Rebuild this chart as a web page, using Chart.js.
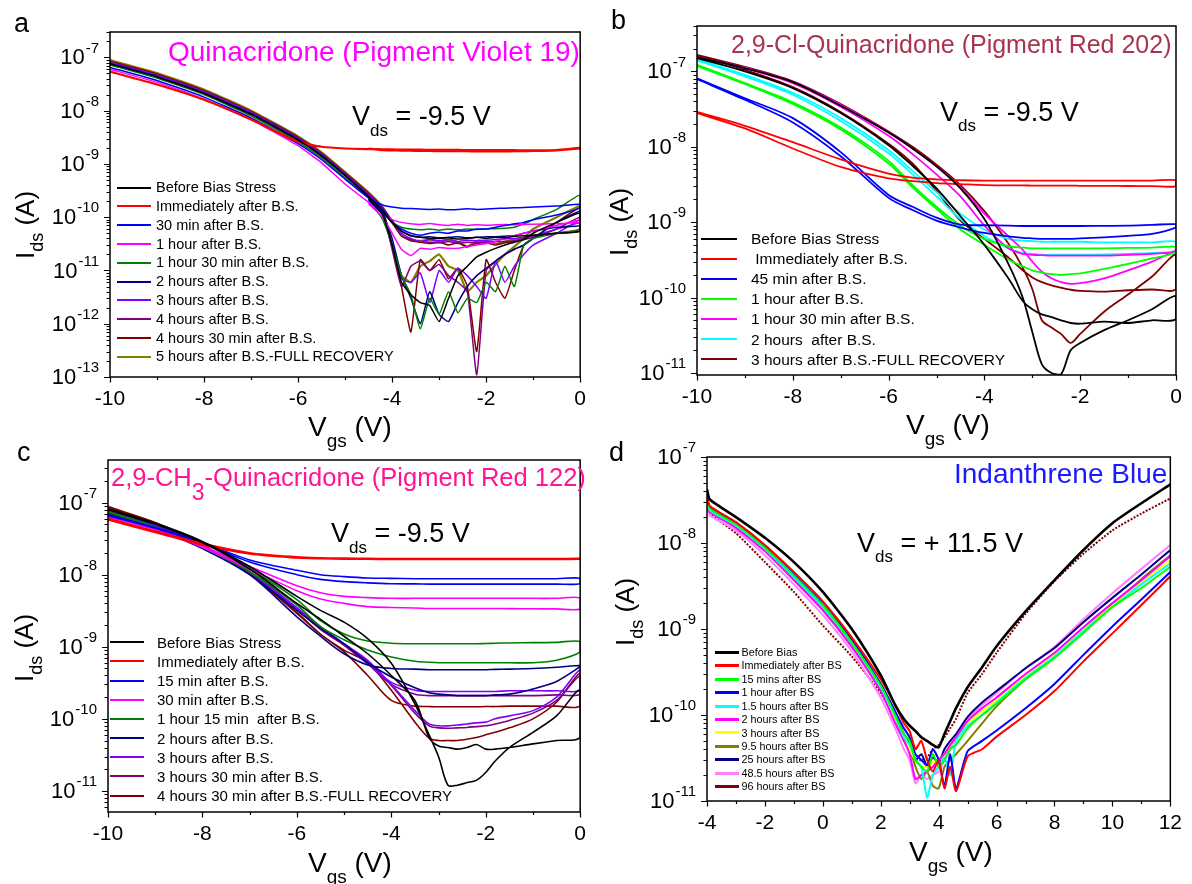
<!DOCTYPE html>
<html>
<head>
<meta charset="utf-8">
<script src="https://cdn.jsdelivr.net/npm/chart.js@4.4.0/dist/chart.umd.min.js"></script>
<style>
  body { margin: 0; }
  #page { position: relative; width: 1192px; height: 884px; background: #fff; overflow: hidden;
          font-family: 'Liberation Sans', Arial, sans-serif; }
  canvas { position: absolute; }
  .t { position: absolute; line-height: 1; white-space: pre; color: #000; }
  .sub { position: relative; }
  .rot { transform: translate(-50%, -50%) rotate(-90deg); }
</style>
</head>
<body>
<div id="page">
  <canvas id="chartA" width="596" height="440" style="left:0px;top:0px"></canvas>
  <canvas id="chartB" width="596" height="440" style="left:596px;top:0px"></canvas>
  <canvas id="chartC" width="596" height="444" style="left:0px;top:440px"></canvas>
  <canvas id="chartD" width="596" height="444" style="left:596px;top:440px"></canvas>

  <div class="t" style="left:14px;top:10px;font-size:27px">a</div>
  <div class="t" style="left:611px;top:7px;font-size:27px">b</div>
  <div class="t" style="left:17px;top:439px;font-size:27px">c</div>
  <div class="t" style="left:609px;top:439px;font-size:27px">d</div>

  <div class="t" style="left:168px;top:38px;font-size:28px;color:#ff00ff">Quinacridone (Pigment Violet 19)</div>
  <div class="t" style="left:731px;top:31.5px;font-size:25px;color:#a8344f">2,9-Cl-Quinacridone (Pigment Red 202)</div>
  <div class="t" style="left:111px;top:465px;font-size:25.5px;color:#ff1493">2,9-CH<span class="sub" style="font-size:23px;top:14px">3</span>-Quinacridone (Pigment Red 122)</div>
  <div class="t" style="left:954px;top:460px;font-size:28px;color:#1a1aff">Indanthrene Blue</div>

  <div class="t" style="left:352px;top:103px;font-size:27px">V<span class="sub" style="font-size:17px;top:10.5px">ds</span> = -9.5 V</div>
  <div class="t" style="left:940px;top:98.5px;font-size:27px">V<span class="sub" style="font-size:17px;top:10.5px">ds</span> = -9.5 V</div>
  <div class="t" style="left:331px;top:520px;font-size:27px">V<span class="sub" style="font-size:17px;top:10.5px">ds</span> = -9.5 V</div>
  <div class="t" style="left:857px;top:529.5px;font-size:27px">V<span class="sub" style="font-size:17px;top:10.5px">ds</span> = + 11.5 V</div>

  <div class="t rot" style="left:25px;top:225px;font-size:26px">I<span class="sub" style="font-size:18px;top:9px">ds</span> (A)</div>
  <div class="t rot" style="left:619px;top:222px;font-size:26px">I<span class="sub" style="font-size:18px;top:9px">ds</span> (A)</div>
  <div class="t rot" style="left:24px;top:648px;font-size:26px">I<span class="sub" style="font-size:18px;top:9px">ds</span> (A)</div>
  <div class="t rot" style="left:625px;top:612px;font-size:26px">I<span class="sub" style="font-size:18px;top:9px">ds</span> (A)</div>

  <div class="t" style="left:308px;top:413px;font-size:28px">V<span class="sub" style="font-size:19px;top:11px">gs</span> (V)</div>
  <div class="t" style="left:906px;top:411px;font-size:28px">V<span class="sub" style="font-size:19px;top:11px">gs</span> (V)</div>
  <div class="t" style="left:308px;top:849px;font-size:28px">V<span class="sub" style="font-size:19px;top:11px">gs</span> (V)</div>
  <div class="t" style="left:909px;top:838px;font-size:28px">V<span class="sub" style="font-size:19px;top:11px">gs</span> (V)</div>
</div>
<script>
// ---------- panel a : Quinacridone ----------
const vgsA = [-10, -9, -8, -7, -6, -5.5, -5, -4.5, -4.2, -4, -3.8, -3.6, -3.4, -3.2, -3, -2.8, -2.6, -2.4, -2.2, -2, -1.8, -1.6, -1.4, -1.2, -1, -0.5, 0];
const vgsAReturn = [-4.5, -4.2, -4, -3.8, -3.6, -3.4, -3.2, -3, -2.8, -2.6, -2.4, -2.2, -2, -1.8, -1.6, -1.4, -1.2, -1, -0.5, 0];
const namesA = ['Before Bias Stress', 'Immediately after B.S.', '30 min after B.S.', '1 hour after B.S.', '1 hour 30 min after B.S.',
  '2 hours after B.S.', '3 hours after B.S.', '4 hours after B.S.', '4 hours 30 min after B.S.', '5 hours after B.S.-FULL RECOVERY'];
const colorsA = ['#000000', '#ff0000', '#0000ff', '#ff00ff', '#008000', '#000080', '#8000ff', '#800080', '#800000', '#808000'];

const aBeforeFwd = [7.5e-8, 4.3e-8, 2.1e-8, 8.5e-9, 2.8e-9, 1.4e-9, 6e-10, 2.4e-10, 1.3e-10, 8e-11, 5.5e-11, 4.5e-11, 4.2e-11, 4e-11, 4e-11, 4.1e-11, 3.9e-11, 4e-11, 4.2e-11, 4e-11, 4.2e-11, 4.1e-11, 4.4e-11, 4.5e-11, 4.6e-11, 5e-11, 5.5e-11];
const aBeforeRev = [2.2e-10, 1.1e-10, 3e-11, 6e-12, 3.5e-12, 2.5e-12, 2.2e-12, 1.1e-12, 3e-12, 8e-12, 1.2e-11, 1.8e-11, 2.2e-11, 2.6e-11, 3e-11, 3.4e-11, 3.8e-11, 5e-11, 8e-11, 1.2e-10];
const aImmFwd = [5.4e-8, 3.1e-8, 1.6e-8, 6.8e-9, 2.6e-9, 2.1e-9, 1.95e-9, 1.9e-9, 1.88e-9, 1.87e-9, 1.86e-9, 1.85e-9, 1.85e-9, 1.84e-9, 1.84e-9, 1.83e-9, 1.83e-9, 1.82e-9, 1.82e-9, 1.82e-9, 1.81e-9, 1.81e-9, 1.81e-9, 1.8e-9, 1.8e-9, 1.82e-9, 2e-9];
const aImmRev = [1.95e-9, 1.82e-9, 1.8e-9, 1.78e-9, 1.77e-9, 1.76e-9, 1.75e-9, 1.74e-9, 1.74e-9, 1.73e-9, 1.73e-9, 1.72e-9, 1.72e-9, 1.72e-9, 1.72e-9, 1.73e-9, 1.74e-9, 1.75e-9, 1.8e-9, 1.95e-9];
const aBlueFwd = [6.5e-8, 3.7e-8, 1.8e-8, 7.3e-9, 2.4e-9, 1.2e-9, 5.2e-10, 2.3e-10, 1.7e-10, 1.55e-10, 1.48e-10, 1.45e-10, 1.42e-10, 1.4e-10, 1.42e-10, 1.38e-10, 1.4e-10, 1.44e-10, 1.4e-10, 1.42e-10, 1.45e-10, 1.48e-10, 1.5e-10, 1.52e-10, 1.55e-10, 1.62e-10, 1.75e-10];
const aBlueRev = [2.1e-10, 1.2e-10, 8e-11, 6e-11, 5e-11, 4.6e-11, 5e-11, 5.2e-11, 5e-11, 5.5e-11, 5.5e-11, 6e-11, 6e-11, 6.5e-11, 7e-11, 7.5e-11, 8e-11, 9e-11, 1.1e-10, 1.5e-10];
const aMagFwd = [6e-8, 3.4e-8, 1.65e-8, 6.8e-9, 2.2e-9, 1.05e-9, 4.2e-10, 1.9e-10, 1.2e-10, 9e-11, 8e-11, 7.5e-11, 7.3e-11, 7.6e-11, 7.2e-11, 7e-11, 7.4e-11, 7e-11, 7.2e-11, 7.1e-11, 7.2e-11, 7.3e-11, 7.2e-11, 7.3e-11, 7.4e-11, 7.6e-11, 8e-11];
const aMagRev = [1.8e-10, 1e-10, 5e-11, 2.5e-11, 1.9e-11, 2.6e-11, 2.5e-11, 2.7e-11, 2.6e-11, 2.6e-11, 2.8e-11, 3e-11, 3.2e-11, 3.5e-11, 4e-11, 4.5e-11, 5e-11, 5.5e-11, 7e-11, 9e-11];
const aGreenFwd = [7.2e-8, 4.1e-8, 2e-8, 8e-9, 2.6e-9, 1.3e-9, 5.5e-10, 2.3e-10, 1.3e-10, 8e-11, 6.5e-11, 6e-11, 5.8e-11, 6e-11, 5.7e-11, 6e-11, 5.8e-11, 6e-11, 5.9e-11, 6e-11, 6.1e-11, 6.2e-11, 6.5e-11, 7.5e-11, 9e-11, 1.4e-10, 2.6e-10];
const aGreenRev = [2.2e-10, 9e-11, 3e-11, 8e-12, 3.5e-12, 8e-13, 3e-12, 1.5e-12, 4e-12, 1.6e-12, 3e-12, 2.5e-12, 6e-12, 4e-12, 1.2e-11, 5e-12, 3e-11, 4e-11, 5e-11, 6e-11];
const aNavyFwd = [7.7e-8, 4.4e-8, 2.15e-8, 8.8e-9, 2.9e-9, 1.45e-9, 6.2e-10, 2.5e-10, 1.4e-10, 8.5e-11, 5.5e-11, 4.5e-11, 4.2e-11, 4.3e-11, 4.1e-11, 4.2e-11, 4.3e-11, 4.1e-11, 4.2e-11, 4.3e-11, 4.3e-11, 4.4e-11, 4.5e-11, 5e-11, 5.5e-11, 6.5e-11, 7e-11];
const aNavyRev = [2.4e-10, 1.2e-10, 4e-11, 8e-12, 3e-12, 1e-12, 4e-12, 1.5e-12, 1.1e-12, 2.5e-12, 5e-12, 8e-12, 1.1e-11, 1.5e-11, 2e-11, 2.5e-11, 3e-11, 4e-11, 8e-11, 1.3e-10];
const aVioletFwd = [8e-8, 4.6e-8, 2.25e-8, 9.2e-9, 3e-9, 1.5e-9, 6.4e-10, 2.6e-10, 1.45e-10, 8.5e-11, 5e-11, 4e-11, 3.5e-11, 3.8e-11, 3.6e-11, 3.8e-11, 3.5e-11, 3.7e-11, 3.6e-11, 3.7e-11, 3.8e-11, 3.9e-11, 4e-11, 4.2e-11, 4.5e-11, 6e-11, 8e-11];
const aVioletRev = [2.5e-10, 1.2e-10, 3e-11, 7e-12, 6e-12, 9e-12, 2.5e-12, 1e-11, 6e-12, 1.1e-11, 8e-12, 5e-12, 3e-12, 1.5e-11, 6e-12, 1.2e-11, 2e-11, 3e-11, 5e-11, 9e-11];
const aPurpleFwd = [8.2e-8, 4.7e-8, 2.3e-8, 9.4e-9, 3.1e-9, 1.55e-9, 6.6e-10, 2.7e-10, 1.5e-10, 8.5e-11, 4.5e-11, 3.8e-11, 3.5e-11, 3.4e-11, 3.3e-11, 3.5e-11, 3.2e-11, 3.4e-11, 3.3e-11, 3.4e-11, 3.5e-11, 3.5e-11, 3.6e-11, 3.8e-11, 4.2e-11, 5e-11, 5.5e-11];
const aPurpleRev = [2.6e-10, 1.2e-10, 2.5e-11, 5e-12, 1.2e-11, 1.5e-11, 1e-11, 1.3e-11, 8e-12, 6e-12, 4e-12, 1.1e-13, 1e-11, 1.5e-11, 2e-11, 2.5e-11, 3e-11, 4e-11, 6e-11, 1e-10];
const aMaroonFwd = [8.5e-8, 4.9e-8, 2.4e-8, 9.7e-9, 3.2e-9, 1.6e-9, 6.8e-10, 2.8e-10, 1.5e-10, 8e-11, 4.5e-11, 3.6e-11, 3.4e-11, 3.2e-11, 3.4e-11, 3e-11, 3.3e-11, 2.8e-11, 3.2e-11, 3.3e-11, 3e-11, 3.3e-11, 3.5e-11, 4e-11, 4.5e-11, 5e-11, 5.5e-11];
const aMaroonRev = [2.7e-10, 1.2e-10, 3e-11, 5e-12, 7e-13, 1.6e-11, 1e-11, 1.6e-11, 7e-12, 1.1e-11, 5e-12, 3e-13, 1.6e-11, 6e-12, 3e-12, 1e-11, 3e-11, 4e-11, 8e-11, 1.5e-10];
const aOliveFwd = [8.9e-8, 5.1e-8, 2.5e-8, 1e-8, 3.3e-9, 1.65e-9, 7e-10, 2.9e-10, 1.55e-10, 8e-11, 4.5e-11, 3.8e-11, 3.6e-11, 3.8e-11, 3.5e-11, 3.8e-11, 3.4e-11, 2.8e-11, 3.6e-11, 3.5e-11, 3.2e-11, 3.5e-11, 3.8e-11, 4.2e-11, 4.5e-11, 5e-11, 6e-11];
const aOliveRev = [2.8e-10, 1.3e-10, 3e-11, 8e-12, 6e-12, 1.2e-11, 1.5e-11, 2e-11, 1.2e-11, 1e-11, 4e-12, 6e-12, 8e-12, 1.3e-11, 2e-11, 2.8e-11, 4e-11, 6e-11, 1e-10, 1.6e-10];

// ---------- panel b : 2,9-Cl-Quinacridone ----------
const vgsB = [-10, -9, -8, -7, -6, -5.5, -5, -4.5, -4, -3.5, -3.2, -3, -2.8, -2.6, -2.4, -2.2, -2, -1.5, -1, -0.5, 0];
const namesB = ['Before Bias Stress', ' Immediately after B.S.', '45 min after B.S.', '1 hour after B.S.', '1 hour 30 min after B.S.',
  '2 hours  after B.S.', '3 hours after B.S.-FULL RECOVERY'];
const colorsB = ['#000000', '#ff0000', '#0000ff', '#00ff00', '#ff00ff', '#00ffff', '#800000'];

const bBeforeFwd = [1.55e-7, 1.1e-7, 7.2e-8, 3.5e-8, 1.55e-8, 9.5e-9, 5.5e-9, 2.8e-9, 1.1e-9, 2.8e-10, 1e-10, 3.5e-11, 1.3e-11, 1e-11, 9.6e-12, 2e-11, 2.5e-11, 3.7e-11, 5e-11, 7e-11, 1.05e-10];
const bBeforeRev = [1.5e-7, 1e-7, 6e-8, 2.8e-8, 1.05e-8, 5.6e-9, 2.8e-9, 1.2e-9, 5e-10, 1.8e-10, 9e-11, 7e-11, 6e-11, 5.5e-11, 5e-11, 4.6e-11, 4.5e-11, 4.8e-11, 4.6e-11, 5e-11, 5.2e-11];
const bImmFwd = [2.9e-8, 1.9e-8, 1.15e-8, 6.8e-9, 4.4e-9, 3.9e-9, 3.7e-9, 3.6e-9, 3.55e-9, 3.55e-9, 3.55e-9, 3.55e-9, 3.55e-9, 3.55e-9, 3.55e-9, 3.55e-9, 3.55e-9, 3.55e-9, 3.55e-9, 3.56e-9, 3.6e-9];
const bImmRev = [2.8e-8, 1.75e-8, 9.5e-9, 5.4e-9, 3.8e-9, 3.5e-9, 3.3e-9, 3.2e-9, 3.1e-9, 3.08e-9, 3.07e-9, 3.06e-9, 3.06e-9, 3.05e-9, 3.05e-9, 3.05e-9, 3.04e-9, 3.03e-9, 3.02e-9, 3.01e-9, 3e-9];
const b45Fwd = [8.1e-8, 4.4e-8, 2.4e-8, 8.5e-9, 2.3e-9, 1.6e-9, 1.15e-9, 9.3e-10, 9.1e-10, 9e-10, 8.9e-10, 8.9e-10, 8.9e-10, 8.9e-10, 8.9e-10, 8.9e-10, 8.9e-10, 8.95e-10, 9e-10, 9.2e-10, 9.4e-10];
const b45Rev = [7.9e-8, 4.2e-8, 2.1e-8, 7.5e-9, 2.1e-9, 1.45e-9, 1.05e-9, 8.5e-10, 7.2e-10, 6.5e-10, 6.2e-10, 6.1e-10, 6e-10, 6e-10, 6e-10, 6e-10, 6.1e-10, 6.3e-10, 6.6e-10, 7e-10, 8.5e-10];
const b1hFwd = [1.22e-7, 7e-8, 3.9e-8, 1.8e-8, 6.5e-9, 3.1e-9, 1.6e-9, 9e-10, 6e-10, 4.8e-10, 4.6e-10, 4.5e-10, 4.5e-10, 4.5e-10, 4.5e-10, 4.5e-10, 4.5e-10, 4.5e-10, 4.55e-10, 4.6e-10, 4.7e-10];
const b1hRev = [1.18e-7, 6.8e-8, 3.7e-8, 1.7e-8, 6e-9, 2.9e-9, 1.5e-9, 8e-10, 5e-10, 3.2e-10, 2.6e-10, 2.3e-10, 2.15e-10, 2.05e-10, 2e-10, 2.05e-10, 2.1e-10, 2.4e-10, 2.8e-10, 3.3e-10, 4e-10];
const b1h30Fwd = [1.55e-7, 1.1e-7, 7e-8, 3.4e-8, 1.4e-8, 8e-9, 4.3e-9, 2.2e-9, 9e-10, 4.5e-10, 3.8e-10, 3.7e-10, 3.65e-10, 3.6e-10, 3.6e-10, 3.6e-10, 3.6e-10, 3.6e-10, 3.7e-10, 3.8e-10, 4e-10];
const b1h30Rev = [1.55e-7, 1.12e-7, 7.2e-8, 3.6e-8, 1.55e-8, 9.5e-9, 5.5e-9, 2.9e-9, 1.3e-9, 6.5e-10, 4.3e-10, 3e-10, 2.2e-10, 1.8e-10, 1.6e-10, 1.52e-10, 1.55e-10, 1.8e-10, 2.3e-10, 3e-10, 4.2e-10];
const b2hFwd = [1.45e-7, 9e-8, 5.2e-8, 2.4e-8, 9e-9, 4.8e-9, 2.5e-9, 1.3e-9, 8e-10, 6e-10, 5.7e-10, 5.6e-10, 5.5e-10, 5.5e-10, 5.5e-10, 5.5e-10, 5.5e-10, 5.4e-10, 5.4e-10, 5.4e-10, 5.5e-10];
const b2hRev = [1.4e-7, 8.6e-8, 4.9e-8, 2.2e-8, 8.2e-9, 4.3e-9, 2.2e-9, 1.1e-9, 6.5e-10, 4.5e-10, 3.9e-10, 3.8e-10, 3.7e-10, 3.7e-10, 3.7e-10, 3.7e-10, 3.7e-10, 3.75e-10, 3.8e-10, 3.9e-10, 4.2e-10];
const b3hFwd = [1.66e-7, 1.15e-7, 7.4e-8, 3.7e-8, 1.6e-8, 1e-8, 5.8e-9, 3.1e-9, 1.4e-9, 5.2e-10, 2.5e-10, 1.3e-10, 5e-11, 4e-11, 3.3e-11, 2.5e-11, 3.3e-11, 6.5e-11, 1.1e-10, 1.9e-10, 3.7e-10];
const b3hRev = [1.62e-7, 1.05e-7, 6.2e-8, 2.9e-8, 1.1e-8, 6e-9, 2.6e-9, 1.05e-9, 6e-10, 3.4e-10, 2.3e-10, 1.85e-10, 1.6e-10, 1.45e-10, 1.35e-10, 1.27e-10, 1.23e-10, 1.2e-10, 1.25e-10, 1.28e-10, 1.3e-10];

// ---------- panel c : 2,9-CH3-Quinacridone ----------
const vgsC = [-10, -9, -8, -7, -6, -5.5, -5, -4.5, -4, -3.5, -3.2, -3, -2.8, -2.6, -2.4, -2.2, -2, -1.8, -1.5, -1, -0.5, 0];
const namesC = ['Before Bias Stress', 'Immediately after B.S.', '15 min after B.S.', '30 min after B.S.', '1 hour 15 min  after B.S.',
  '2 hours after B.S.', '3 hours after B.S.', '3 hours 30 min after B.S.', '4 hours 30 min after B.S.-FULL RECOVERY'];
const colorsC = ['#000000', '#ff0000', '#0000ff', '#ff00ff', '#008000', '#000080', '#8000ff', '#800080', '#800000'];

const cBeforeFwd = [8.2e-8, 5.2e-8, 2.9e-8, 1.3e-8, 5e-9, 3.2e-9, 2.2e-9, 1.3e-9, 5.9e-10, 1.6e-10, 6e-11, 3e-11, 1.2e-11, 1.2e-11, 1.3e-11, 1.4e-11, 1.8e-11, 2.6e-11, 4e-11, 6.5e-11, 1.1e-10, 2.5e-10];
const cBeforeRev = [8e-8, 5e-8, 2.8e-8, 1.2e-8, 4e-9, 2.4e-9, 1.4e-9, 8e-10, 4e-10, 1.8e-10, 5.5e-11, 4.2e-11, 4e-11, 3.8e-11, 4e-11, 4.4e-11, 3.8e-11, 3.8e-11, 4e-11, 4.5e-11, 5e-11, 5.6e-11];
const cImmFwd = [6e-8, 4e-8, 2.7e-8, 2e-8, 1.75e-8, 1.7e-8, 1.68e-8, 1.67e-8, 1.66e-8, 1.66e-8, 1.66e-8, 1.66e-8, 1.66e-8, 1.66e-8, 1.66e-8, 1.66e-8, 1.66e-8, 1.66e-8, 1.66e-8, 1.66e-8, 1.66e-8, 1.67e-8];
const cImmRev = [5.8e-8, 3.9e-8, 2.6e-8, 1.95e-8, 1.72e-8, 1.68e-8, 1.66e-8, 1.65e-8, 1.64e-8, 1.64e-8, 1.64e-8, 1.64e-8, 1.64e-8, 1.64e-8, 1.64e-8, 1.64e-8, 1.64e-8, 1.64e-8, 1.64e-8, 1.64e-8, 1.64e-8, 1.65e-8];
const c15Fwd = [6.8e-8, 4.5e-8, 2.8e-8, 1.6e-8, 1.15e-8, 1e-8, 9.4e-9, 9e-9, 8.9e-9, 8.8e-9, 8.8e-9, 8.8e-9, 8.8e-9, 8.8e-9, 8.8e-9, 8.8e-9, 8.8e-9, 8.8e-9, 8.8e-9, 8.8e-9, 8.8e-9, 8.9e-9];
const c15Rev = [6.6e-8, 4.4e-8, 2.7e-8, 1.5e-8, 1e-8, 8.6e-9, 8e-9, 7.7e-9, 7.5e-9, 7.45e-9, 7.4e-9, 7.4e-9, 7.4e-9, 7.4e-9, 7.4e-9, 7.4e-9, 7.4e-9, 7.4e-9, 7.4e-9, 7.4e-9, 7.4e-9, 7.5e-9];
const c30Fwd = [6.5e-8, 4.3e-8, 2.5e-8, 1.3e-8, 7e-9, 5.6e-9, 5e-9, 4.8e-9, 4.7e-9, 4.7e-9, 4.7e-9, 4.7e-9, 4.7e-9, 4.7e-9, 4.7e-9, 4.7e-9, 4.7e-9, 4.7e-9, 4.7e-9, 4.7e-9, 4.7e-9, 4.75e-9];
const c30Rev = [6.3e-8, 4.2e-8, 2.4e-8, 1.2e-8, 6e-9, 4.6e-9, 4e-9, 3.6e-9, 3.5e-9, 3.45e-9, 3.4e-9, 3.4e-9, 3.4e-9, 3.4e-9, 3.4e-9, 3.4e-9, 3.4e-9, 3.4e-9, 3.38e-9, 3.36e-9, 3.35e-9, 3.35e-9];
const c1h15Fwd = [7.5e-8, 4.6e-8, 2.5e-8, 1.2e-8, 4.5e-9, 2.3e-9, 1.5e-9, 1.2e-9, 1.12e-9, 1.1e-9, 1.1e-9, 1.1e-9, 1.1e-9, 1.1e-9, 1.1e-9, 1.1e-9, 1.11e-9, 1.12e-9, 1.13e-9, 1.14e-9, 1.15e-9, 1.18e-9];
const c1h15Rev = [7.3e-8, 4.5e-8, 2.4e-8, 1.1e-8, 3.8e-9, 1.9e-9, 1.25e-9, 9e-10, 7.2e-10, 6.3e-10, 6.1e-10, 6e-10, 6e-10, 6e-10, 6e-10, 6e-10, 6e-10, 6e-10, 6e-10, 6e-10, 6.5e-10, 8.5e-10];
const c2hFwd = [7.2e-8, 4.4e-8, 2.3e-8, 1e-8, 2.6e-9, 1.4e-9, 8e-10, 5.6e-10, 5e-10, 4.9e-10, 4.8e-10, 4.8e-10, 4.8e-10, 4.8e-10, 4.8e-10, 4.8e-10, 4.8e-10, 4.85e-10, 4.9e-10, 5e-10, 5.2e-10, 5.5e-10];
const c2hRev = [7e-8, 4.3e-8, 2.3e-8, 1e-8, 3.2e-9, 1.8e-9, 1.1e-9, 6e-10, 3.8e-10, 2.7e-10, 2.3e-10, 2.2e-10, 2.15e-10, 2.1e-10, 2.1e-10, 2.1e-10, 2.1e-10, 2.15e-10, 2.2e-10, 2.6e-10, 3.3e-10, 5.3e-10];
const c3hFwd = [7.8e-8, 4.8e-8, 2.5e-8, 1.1e-8, 3.5e-9, 1.9e-9, 1.1e-9, 6e-10, 3.2e-10, 2.5e-10, 2.4e-10, 2.4e-10, 2.4e-10, 2.4e-10, 2.4e-10, 2.4e-10, 2.4e-10, 2.4e-10, 2.45e-10, 2.45e-10, 2.45e-10, 2.5e-10];
const c3hRev = [7.7e-8, 4.7e-8, 2.45e-8, 1.08e-8, 3.4e-9, 1.85e-9, 1.1e-9, 6.5e-10, 3e-10, 1.3e-10, 8.5e-11, 8e-11, 8e-11, 8.2e-11, 8.5e-11, 8.8e-11, 9e-11, 1e-10, 1.1e-10, 1.3e-10, 2e-10, 4.8e-10];
const c3h30Fwd = [8e-8, 4.9e-8, 2.55e-8, 1.1e-8, 3.4e-9, 1.8e-9, 1.05e-9, 5.8e-10, 3e-10, 2.2e-10, 2.1e-10, 2.1e-10, 2.1e-10, 2.1e-10, 2.1e-10, 2.1e-10, 2.1e-10, 2.1e-10, 2.1e-10, 2.1e-10, 2.15e-10, 2.2e-10];
const c3h30Rev = [7.9e-8, 4.85e-8, 2.5e-8, 1.08e-8, 3.3e-9, 1.75e-9, 1.05e-9, 6.2e-10, 2.9e-10, 1.2e-10, 8e-11, 7.5e-11, 7.4e-11, 7.5e-11, 7.6e-11, 7.8e-11, 8e-11, 8.5e-11, 9.5e-11, 1.2e-10, 1.8e-10, 4e-10];
const c4h30Fwd = [8.8e-8, 5.3e-8, 2.6e-8, 1.05e-8, 3e-9, 1.5e-9, 8.5e-10, 4e-10, 1.8e-10, 1.5e-10, 1.48e-10, 1.47e-10, 1.47e-10, 1.47e-10, 1.47e-10, 1.47e-10, 1.48e-10, 1.48e-10, 1.5e-10, 1.5e-10, 1.5e-10, 1.52e-10];
const c4h30Rev = [8.6e-8, 5.2e-8, 2.55e-8, 1.02e-8, 2.9e-9, 1.5e-9, 9e-10, 6e-10, 2.5e-10, 9e-11, 5.4e-11, 5e-11, 5e-11, 5e-11, 5.2e-11, 5.5e-11, 6e-11, 6.5e-11, 7.5e-11, 1e-10, 1.7e-10, 4.3e-10];

// ---------- panel d : Indanthrene Blue ----------
const vgsD = [-4, -3.9, -3, -2, -1, 0, 1, 2, 2.5, 2.8, 3, 3.2, 3.4, 3.6, 3.8, 4, 4.2, 4.4, 4.6, 5, 5.5, 6, 7, 8, 9, 10, 11, 12];
const namesD = ['Before Bias', 'Immediately after BS', '15 mins after BS', '1 hour after BS', '1.5 hours after BS', '2 hours after BS',
  '3 hours after BS', '9.5 hours after BS', '25 hours after BS', '48.5 hours after BS', '96 hours after BS'];
const colorsD = ['#000000', '#ff0000', '#00ff00', '#0000ff', '#00ffff', '#ff00ff', '#ffff00', '#808000', '#000080', '#ff80ff', '#800000'];

const dBefore = [4.2e-8, 3.2e-8, 2e-8, 1.15e-8, 6e-9, 2.7e-9, 1e-9, 2.9e-10, 1.3e-10, 9e-11, 7.5e-11, 6.5e-11, 5.5e-11, 5e-11, 4.5e-11, 4.2e-11, 6e-11, 8.5e-11, 1.2e-10, 2.1e-10, 3.6e-10, 6.3e-10, 1.6e-9, 3.7e-9, 8.3e-9, 1.7e-8, 2.9e-8, 4.8e-8];
const dImm = [3.6e-8, 2.7e-8, 1.75e-8, 9.5e-9, 4.6e-9, 2.1e-9, 8e-10, 2.6e-10, 1.3e-10, 8e-11, 6.5e-11, 4e-11, 5e-11, 3e-11, 2.2e-11, 3e-11, 1.4e-11, 2.5e-11, 1.3e-11, 3.3e-11, 4e-11, 5.6e-11, 1e-10, 1.9e-10, 4.2e-10, 8.9e-10, 1.9e-9, 4.1e-9];
const d15m = [3.3e-8, 2.5e-8, 1.65e-8, 8.8e-9, 4.2e-9, 1.9e-9, 7e-10, 2.2e-10, 1e-10, 6e-11, 5e-11, 3e-11, 2.5e-11, 2.2e-11, 3.5e-11, 2.5e-11, 3e-11, 4e-11, 4.5e-11, 7e-11, 1e-10, 1.35e-10, 2.6e-10, 4.6e-10, 9e-10, 1.8e-9, 3e-9, 5.3e-9];
const d1h = [3.4e-8, 2.6e-8, 1.7e-8, 9e-9, 4.3e-9, 1.95e-9, 7.5e-10, 2.3e-10, 1.1e-10, 7e-11, 5.5e-11, 3.5e-11, 3e-11, 2.6e-11, 4e-11, 3e-11, 1.5e-11, 3.5e-11, 1.4e-11, 3.8e-11, 5e-11, 6.6e-11, 1.2e-10, 2.3e-10, 5e-10, 1.07e-9, 2.2e-9, 4.6e-9];
const d1h5 = [3.2e-8, 2.4e-8, 1.6e-8, 8.5e-9, 4e-9, 1.8e-9, 6.8e-10, 2.1e-10, 9.5e-11, 5.5e-11, 4.5e-11, 3e-11, 2.5e-11, 1.1e-11, 2e-11, 2.5e-11, 3.2e-11, 2e-11, 5e-11, 7.5e-11, 1e-10, 1.4e-10, 2.7e-10, 4.8e-10, 9.5e-10, 1.8e-9, 3.3e-9, 5.8e-9];
const d2h = [3e-8, 2.3e-8, 1.5e-8, 8e-9, 3.7e-9, 1.65e-9, 6.2e-10, 1.9e-10, 8e-11, 5e-11, 3.5e-11, 1.8e-11, 2e-11, 2.2e-11, 2.5e-11, 3e-11, 3.5e-11, 4.5e-11, 5.5e-11, 8.5e-11, 1.2e-10, 1.6e-10, 3e-10, 5.3e-10, 1.05e-9, 2e-9, 3.7e-9, 7e-9];
const d3h = [3.2e-8, 2.5e-8, 1.6e-8, 8.6e-9, 4.1e-9, 1.85e-9, 7e-10, 2.1e-10, 9e-11, 6e-11, 4e-11, 3e-11, 2.5e-11, 2.5e-11, 2.8e-11, 3e-11, 3.5e-11, 4.5e-11, 5.5e-11, 8e-11, 1.1e-10, 1.5e-10, 2.8e-10, 5e-10, 1e-9, 1.9e-9, 3.5e-9, 6.3e-9];
const d9h5 = [3.1e-8, 2.4e-8, 1.55e-8, 8.3e-9, 3.9e-9, 1.75e-9, 6.5e-10, 2e-10, 9e-11, 5e-11, 4e-11, 2.5e-11, 1.8e-11, 2.2e-11, 1.5e-11, 1.4e-11, 2.5e-11, 3e-11, 3.5e-11, 5e-11, 8e-11, 1.26e-10, 2.6e-10, 5e-10, 1e-9, 1.9e-9, 3.8e-9, 7.2e-9];
const d25h = [3.3e-8, 2.5e-8, 1.6e-8, 8.5e-9, 4e-9, 1.8e-9, 6.8e-10, 2.1e-10, 1e-10, 6e-11, 4.5e-11, 3e-11, 3.5e-11, 2.6e-11, 3.2e-11, 2.8e-11, 4e-11, 5e-11, 6e-11, 9.5e-11, 1.4e-10, 1.9e-10, 3.5e-10, 6e-10, 1.2e-9, 2.3e-9, 4.3e-9, 8.3e-9];
const d48h5 = [2.8e-8, 2.1e-8, 1.4e-8, 7.2e-9, 3.3e-9, 1.45e-9, 5.5e-10, 1.6e-10, 7e-11, 4e-11, 3e-11, 1.6e-11, 2e-11, 1.8e-11, 2e-11, 2.2e-11, 3e-11, 4e-11, 5.5e-11, 9e-11, 1.3e-10, 1.8e-10, 3.5e-10, 6.2e-10, 1.3e-9, 2.6e-9, 5e-9, 9.5e-9];
const d96h = [2.7e-8, 2.2e-8, 1.3e-8, 6e-9, 2.7e-9, 1.1e-9, 4.8e-10, 1.8e-10, 9e-11, 6e-11, 4.5e-11, 3e-11, 3e-11, 3.2e-11, 4e-11, 4.5e-11, 5.5e-11, 7e-11, 9e-11, 1.8e-10, 3e-10, 5.3e-10, 1.5e-9, 3.6e-9, 7.5e-9, 1.4e-8, 2.2e-8, 3.3e-8];

// ---------- helpers ----------
const FONT = '"Liberation Sans", Arial, sans-serif';

// forward sweep, then the return sweep walked backwards so each series is one loop
function sweep(xsUp, up, xsBack, back) {
  const pts = xsUp.map((x, i) => ({ x: x, y: up[i] }));
  for (let i = xsBack.length - 1; i >= 0; i--) pts.push({ x: xsBack[i], y: back[i] });
  return pts;
}

// box frame, outward ticks and 10^n labels
const axisFrame = {
  id: 'axisFrame',
  afterDraw(chart) {
    const { ctx, chartArea: area } = chart;
    const xs = chart.scales.x, ys = chart.scales.y;
    ctx.save();
    ctx.strokeStyle = '#000';
    ctx.lineWidth = 1.5;
    ctx.strokeRect(area.left, area.top, area.right - area.left, area.bottom - area.top);
    ctx.lineWidth = 1.2;
    ctx.beginPath();
    for (let v = Math.ceil(xs.min); v <= xs.max; v++) {
      const px = Math.round(xs.getPixelForValue(v)) + 0.5;
      const len = v % 2 === 0 ? 5.5 : 3;
      ctx.moveTo(px, area.bottom);
      ctx.lineTo(px, area.bottom + len);
    }
    const lo = Math.floor(Math.log10(ys.min)), hi = Math.ceil(Math.log10(ys.max));
    for (let e = lo; e <= hi; e++) {
      for (let k = 1; k <= 9; k++) {
        const v = k * Math.pow(10, e);
        if (v < ys.min * 0.999 || v > ys.max * 1.001) continue;
        const py = Math.round(ys.getPixelForValue(v)) + 0.5;
        const len = k === 1 ? 6 : 3.5;
        ctx.moveTo(area.left - len, py);
        ctx.lineTo(area.left, py);
      }
    }
    ctx.stroke();

    ctx.fillStyle = '#000';
    ctx.textBaseline = 'middle';
    ctx.textAlign = 'left';
    for (let e = lo; e <= hi; e++) {
      const v = Math.pow(10, e);
      if (v < ys.min * 0.999 || v > ys.max * 1.001) continue;
      const py = ys.getPixelForValue(v);
      const exp = String(e);
      ctx.font = '15px ' + FONT;
      const wExp = ctx.measureText(exp).width;
      ctx.font = '22px ' + FONT;
      const wTen = ctx.measureText('10').width;
      const right = area.left - 11;
      ctx.fillText('10', right - wExp - wTen - 1, py + 1);
      ctx.font = '15px ' + FONT;
      ctx.fillText(exp, right - wExp, py - 9);
    }
    ctx.restore();
  }
};

function makePanel(id, datasets, box) {
  return new Chart(document.getElementById(id), {
    type: 'line',
    data: { datasets: datasets },
    options: {
      animation: false,
      responsive: false,
      devicePixelRatio: 1,
      layout: { padding: { left: 0, top: box.top, right: box.right, bottom: 0 } },
      plugins: { legend: { display: false }, tooltip: { enabled: false } },
      elements: { point: { radius: 0 }, line: { tension: box.tension } },
      scales: {
        x: {
          type: 'linear', min: box.xMin, max: box.xMax,
          ticks: { stepSize: 2, autoSkip: false, maxRotation: 0, color: '#000', padding: box.labelPad,
                   font: { family: FONT, size: 21 } },
          grid: { display: false, drawTicks: false },
          border: { display: false },
          afterFit: s => { s.height = box.xHeight; }
        },
        y: {
          type: 'logarithmic', min: box.yMin, max: box.yMax,
          ticks: { display: false },
          grid: { display: false, drawTicks: false },
          border: { display: false },
          afterFit: s => { s.width = box.yWidth; }
        }
      }
    },
    plugins: [axisFrame]
  });
}

function legend(names, colors, x0, x1, tx, y0, dy, fs, lw) {
  const page = document.getElementById('page');
  names.forEach((name, i) => {
    const y = y0 + i * dy;
    const sw = document.createElement('div');
    sw.style.cssText = `position:absolute;left:${x0}px;top:${y - lw / 2}px;width:${x1 - x0}px;height:${lw}px;background:${colors[i]}`;
    const t = document.createElement('div');
    t.className = 't';
    t.style.cssText = `left:${tx}px;top:${y - 0.5 * fs}px;font-size:${fs}px`;
    t.textContent = name;
    page.appendChild(sw);
    page.appendChild(t);
  });
}

// ---------- panel a ----------
const upA = [aBeforeFwd, aImmFwd, aBlueFwd, aMagFwd, aGreenFwd, aNavyFwd, aVioletFwd, aPurpleFwd, aMaroonFwd, aOliveFwd];
const backA = [aBeforeRev, aImmRev, aBlueRev, aMagRev, aGreenRev, aNavyRev, aVioletRev, aPurpleRev, aMaroonRev, aOliveRev];
makePanel('chartA', namesA.map((n, i) => ({
  label: n, data: sweep(vgsA, upA[i], vgsAReturn, backA[i]),
  borderColor: colorsA[i], borderWidth: (i === 1 || i === 9) ? 2.2 : 1.5
})), { top: 32, right: 14, xHeight: 63, yWidth: 110, xMin: -10, xMax: 0, yMin: 1e-13, yMax: 3e-7, labelPad: 10, tension: 0.15 });
legend(namesA, colorsA, 117, 151, 156, 187.5, 18.8, 14.5, 2);

// ---------- panel b ----------
const upB = [bBeforeFwd, bImmFwd, b45Fwd, b1hFwd, b1h30Fwd, b2hFwd, b3hFwd];
const backB = [bBeforeRev, bImmRev, b45Rev, b1hRev, b1h30Rev, b2hRev, b3hRev];
makePanel('chartB', namesB.map((n, i) => ({
  label: n, data: sweep(vgsB, upB[i], vgsB, backB[i]),
  borderColor: colorsB[i], borderWidth: 1.8
})), { top: 26, right: 16, xHeight: 65, yWidth: 101, xMin: -10, xMax: 0, yMin: 9.4e-12, yMax: 4e-7, labelPad: 10, tension: 0.3 });
legend(namesB, colorsB, 701, 737, 751, 238.5, 20.15, 15.5, 2);

// ---------- panel c ----------
const upC = [cBeforeFwd, cImmFwd, c15Fwd, c30Fwd, c1h15Fwd, c2hFwd, c3hFwd, c3h30Fwd, c4h30Fwd];
const backC = [cBeforeRev, cImmRev, c15Rev, c30Rev, c1h15Rev, c2hRev, c3hRev, c3h30Rev, c4h30Rev];
makePanel('chartC', namesC.map((n, i) => ({
  label: n, data: sweep(vgsC, upC[i], vgsC, backC[i]),
  borderColor: colorsC[i], borderWidth: i === 1 ? 2.2 : 1.6
})), { top: 20, right: 7, xHeight: 72, yWidth: 108, xMin: -10, xMax: 0, yMin: 5.1e-12, yMax: 3.9e-7, labelPad: 10, tension: 0.3 });
legend(namesC, colorsC, 110, 144, 157, 642.3, 19.17, 15, 2);

// ---------- panel d ----------
const curvesD = [dBefore, dImm, d15m, d1h, d1h5, d2h, d3h, d9h5, d25h, d48h5, d96h];
makePanel('chartD', namesD.map((n, i) => ({
  label: n, data: vgsD.map((x, j) => ({ x: x, y: curvesD[i][j] })),
  borderColor: colorsD[i], borderWidth: i === 0 ? 2.6 : 2,
  borderDash: i === 10 ? [2, 1.5] : []
})), { top: 17, right: 13, xHeight: 83, yWidth: 111, xMin: -4, xMax: 12, yMin: 1e-11, yMax: 1e-7, labelPad: 10, tension: 0.2 });
legend(namesD, colorsD, 715, 739, 741.5, 652.3, 13.44, 10.8, 3);
</script>
</body>
</html>
